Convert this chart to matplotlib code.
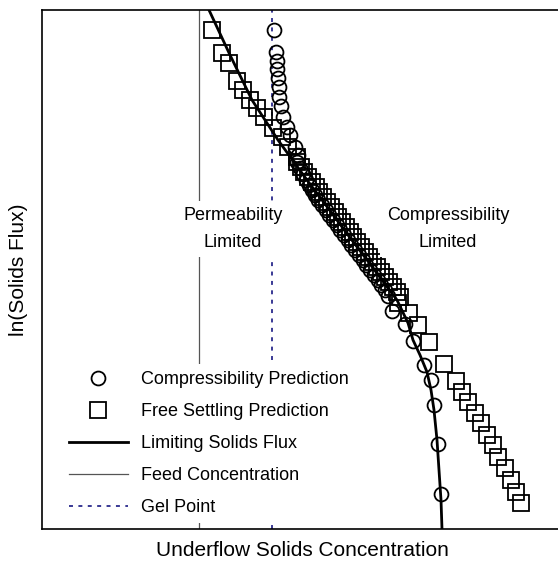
"""
Limiting solids flux vs underflow concentration (arbitrary units, no ticks)
"""

import matplotlib
matplotlib.use('Agg')
import matplotlib.pyplot as plt

plt.rcParams['font.family'] = ['Liberation Sans', 'DejaVu Sans']

# underflow concentration / ln(flux), arbitrary units
comp_conc = [232, 234, 235, 235, 236, 237, 237, 239, 241, 245, 248, 253, 256,
             255, 258, 261, 264, 267, 270, 273, 276, 280, 284, 287, 291, 295,
             298, 302, 306, 309, 313, 317, 321, 324, 328, 332, 336, 339, 343,
             346, 350, 363, 371, 382, 389, 392, 396, 399]
comp_flux = [499, 477, 468, 460, 451, 442, 432, 423, 412, 402, 394, 382, 374,
             367, 361, 355, 349, 344, 339, 334, 329, 324, 319, 314, 309, 304,
             299, 294, 289, 284, 279, 274, 269, 264, 259, 254, 249, 244, 239,
             233, 218, 205, 188, 164, 149, 124, 85, 35]

free_conc = [170, 180, 187, 195, 201, 208, 215, 222, 231, 240, 246, 255, 255,
             259, 262, 266, 270, 274, 277, 281, 285, 289, 293, 296, 300, 304,
             308, 311, 315, 319, 323, 327, 331, 335, 339, 343, 347, 351, 355,
             358, 356, 367, 376, 387, 402, 414, 420, 426, 433, 439, 445, 451,
             456, 463, 469, 474, 479]
free_flux = [499, 476, 466, 448, 439, 429, 421, 412, 401, 392, 382, 372, 367,
             362, 357, 352, 347, 342, 337, 332, 327, 322, 317, 312, 307, 302,
             297, 292, 287, 282, 277, 272, 267, 262, 257, 252, 247, 242, 237,
             232, 226, 216, 204, 187, 165, 148, 137, 127, 116, 106, 94, 84,
             72, 61, 49, 37, 26]

limit_conc = [167, 188, 210, 236, 265, 286, 306, 325, 340, 355, 366, 371, 378,
              385, 389, 392, 395, 397, 399, 400]
limit_flux = [519, 474, 429, 389, 349, 321, 294, 269, 249, 229, 206, 189, 174,
              157, 139, 119, 89, 59, 29, 0]

feed_conc = 157
gel_conc = 230


fig = plt.figure(figsize=(5.58, 5.63), dpi=100)
ax = fig.add_axes([42 / 558, 34 / 563, 520 / 558, 519 / 563])

ax.axvline(feed_conc, color='#555555', lw=0.9, label='Feed Concentration', zorder=1)
ax.axvline(gel_conc, color='#2a2a8c', lw=1.3, dashes=(2.2, 3.0),
           label='Gel Point', zorder=1)
ax.plot(limit_conc, limit_flux, color='black', lw=2.0,
        label='Limiting Solids Flux', zorder=3)
ax.plot(comp_conc, comp_flux, ls='none', marker='o', ms=10, mfc='none',
        mec='black', mew=1.3, label='Compressibility Prediction', zorder=2)
ax.plot(free_conc, free_flux, ls='none', marker='s', ms=11, mfc='none',
        mec='black', mew=1.3, label='Free Settling Prediction', zorder=2)

box = dict(facecolor='white', edgecolor='none', pad=5)
ax.text(191, 300, 'Permeability\nLimited', ha='center', va='center',
        fontsize=13, linespacing=1.7, bbox=box, zorder=4)
ax.text(406, 300, 'Compressibility\nLimited', ha='center', va='center',
        fontsize=13, linespacing=1.7, bbox=box, zorder=4)

handles, labels = ax.get_legend_handles_labels()
order = [3, 4, 2, 0, 1]
leg = ax.legend([handles[i] for i in order], [labels[i] for i in order],
                loc='lower left', bbox_to_anchor=(0.02, -0.006), fontsize=13,
                numpoints=1, handlelength=3.3, handletextpad=0.7,
                labelspacing=0.83, borderpad=0.4, frameon=True, fancybox=False)
leg.get_frame().set_facecolor('white')
leg.get_frame().set_edgecolor('none')
leg.get_frame().set_alpha(1.0)
leg.set_zorder(5)

ax.set_xlim(0, 520)
ax.set_ylim(0, 519)
ax.set_xticks([])
ax.set_yticks([])
for s in ax.spines.values():
    s.set_linewidth(1.2)

ax.set_xlabel('Underflow Solids Concentration', fontsize=15, labelpad=9)
ax.set_ylabel('ln(Solids Flux)', fontsize=15, labelpad=10)

fig.savefig('out.png', dpi=100)
